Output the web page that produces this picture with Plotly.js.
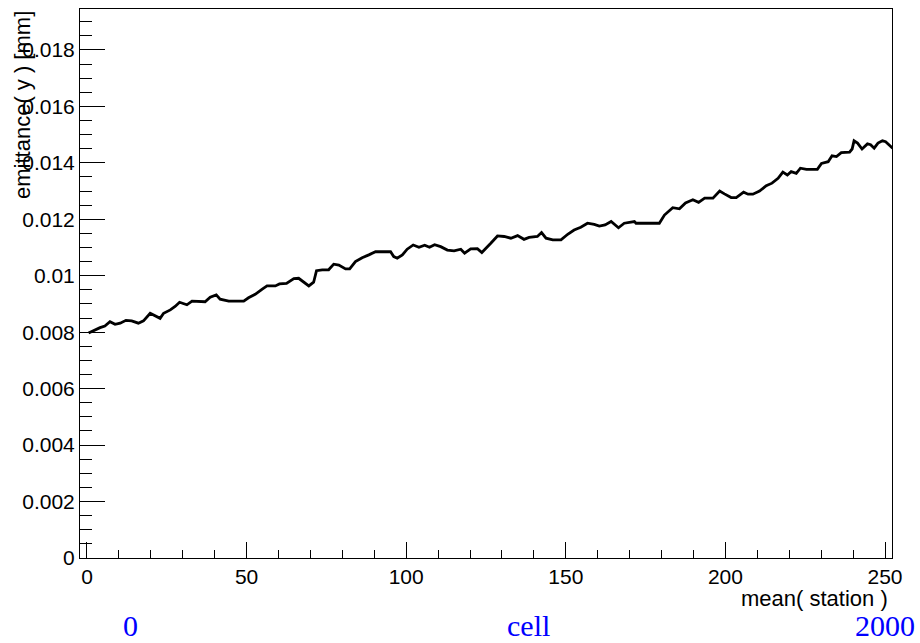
<!DOCTYPE html>
<html>
<head>
<meta charset="utf-8">
<script src="https://cdn.plot.ly/plotly-3.0.1.min.js"></script>
<style>
html,body{margin:0;padding:0;background:#fff;}
#chart{width:920px;height:643px;}
</style>
</head>
<body>
<div id="chart"></div>
<script>
// Data
const station = [0.5, 2.5, 4.1, 5.6, 7.2, 8.8, 10.4, 12.2, 14.0, 16.1, 17.7, 19.8, 21.3, 22.9, 24.0, 26.1, 27.6, 29.0, 31.3, 32.9,
  37.0, 38.6, 40.5, 41.7, 44.4, 49.1, 50.6, 52.7, 54.8, 56.4, 59.0, 60.3, 62.5, 64.8, 66.3, 67.9, 69.5, 71.0, 71.9, 73.7,
  75.7, 77.3, 78.9, 81.0, 82.3, 84.1, 86.2, 88.3, 90.4, 95.1, 96.1, 97.2, 98.8, 100.3, 102.2, 104.0, 105.8, 107.3, 108.9, 110.8,
  112.9, 115.0, 117.1, 118.3, 120.2, 122.3, 123.7, 126.5, 128.6, 130.7, 132.8, 134.9, 136.9, 138.5, 141.1, 142.4, 143.8, 145.9, 148.5, 150.6,
  152.6, 154.7, 156.8, 158.9, 160.5, 162.3, 164.2, 166.5, 168.3, 171.5, 172.0, 179.3, 180.9, 183.5, 185.6, 187.5, 189.8, 191.6, 193.5, 196.1,
  198.2, 199.7, 201.8, 203.4, 205.7, 207.1, 208.6, 210.7, 212.8, 214.6, 216.5, 218.0, 219.4, 220.6, 222.2, 223.5, 225.4, 228.8, 230.1, 232.2,
  233.4, 234.8, 236.3, 238.9, 239.7, 240.3, 241.4, 242.8, 244.5, 245.5, 246.6, 247.8, 249.2, 250.2, 251.6, 252.4];
const emittance = [0.00797, 0.00808, 0.00816, 0.00822, 0.00837, 0.00828, 0.00832, 0.00842, 0.00840, 0.00832, 0.00840, 0.00867, 0.00859, 0.00849, 0.00867, 0.00879, 0.00891, 0.00906, 0.00897, 0.00910,
  0.00908, 0.00924, 0.00932, 0.00917, 0.00910, 0.00910, 0.00922, 0.00934, 0.00952, 0.00964, 0.00964, 0.00971, 0.00973, 0.00990, 0.00991, 0.00979, 0.00964, 0.00977, 0.01018, 0.01021,
  0.01021, 0.01041, 0.01038, 0.01024, 0.01024, 0.01050, 0.01064, 0.01074, 0.01085, 0.01085, 0.01068, 0.01062, 0.01074, 0.01094, 0.01109, 0.01101, 0.01108, 0.01101, 0.01110, 0.01103,
  0.01091, 0.01088, 0.01094, 0.01080, 0.01095, 0.01096, 0.01082, 0.01115, 0.01141, 0.01139, 0.01133, 0.01142, 0.01129, 0.01136, 0.01139, 0.01153, 0.01133, 0.01127, 0.01127, 0.01147,
  0.01162, 0.01172, 0.01186, 0.01182, 0.01176, 0.01180, 0.01192, 0.01170, 0.01186, 0.01192, 0.01186, 0.01186, 0.01215, 0.01241, 0.01237, 0.01258, 0.01269, 0.01260, 0.01275, 0.01275,
  0.01300, 0.01290, 0.01277, 0.01277, 0.01296, 0.01289, 0.01289, 0.01300, 0.01319, 0.01328, 0.01345, 0.01367, 0.01357, 0.01369, 0.01363, 0.01381, 0.01377, 0.01377, 0.01398, 0.01404,
  0.01425, 0.01422, 0.01436, 0.01438, 0.01449, 0.01478, 0.01470, 0.01449, 0.01467, 0.01464, 0.01452, 0.01470, 0.01478, 0.01475, 0.01458, 0.01452];

const xTitle = "mean( station )";
const yTitle = "emittance( y ) [mm]";
const bottomLabels = ["0", "cell", "2000"];

const trace = {
  x: station, y: emittance, type: 'scatter', mode: 'lines',
  line: {color: '#000', width: 2.8, shape: 'linear'},
  hoverinfo: 'skip'
};

const tickFont = {family: '"Liberation Sans", Arial, sans-serif', size: 21, color: '#000'};
const titleFont = {family: '"Liberation Sans", Arial, sans-serif', size: 22, color: '#000'};
const blueFont = {family: '"Liberation Serif", "Times New Roman", serif', size: 30, color: '#0000ff'};
const yBottom = (558 - 643) / 549;

const layout = {
  width: 920, height: 643,
  margin: {l: 80, r: 28, t: 9, b: 85, pad: 0},
  paper_bgcolor: '#fff', plot_bgcolor: '#fff',
  showlegend: false,
  xaxis: {
    range: [-2.19, 252.19], showgrid: false, zeroline: false,
    showline: true, linecolor: '#000', linewidth: 1, mirror: true,
    ticks: 'inside', ticklen: 16, tickwidth: 1, tickcolor: '#000',
    tick0: 0, dtick: 50, tickfont: tickFont,
    minor: {ticks: 'inside', ticklen: 8, tickwidth: 1, tickcolor: '#000', dtick: 10, tick0: 0, showgrid: false},
    fixedrange: true
  },
  yaxis: {
    range: [0, 0.01945], showgrid: false, zeroline: false,
    showline: true, linecolor: '#000', linewidth: 1, mirror: true,
    ticks: 'inside', ticklen: 25, tickwidth: 1, tickcolor: '#000',
    tick0: 0, dtick: 0.002, tickfont: tickFont, tickformat: '~g',
    minor: {ticks: 'inside', ticklen: 12, tickwidth: 1, tickcolor: '#000', dtick: 0.0005, tick0: 0, showgrid: false},
    fixedrange: true
  },
  annotations: [
    {text: xTitle, xref: 'paper', yref: 'paper', x: (890 - 80) / 812, y: (558 - 598) / 549,
     xanchor: 'right', yanchor: 'middle', showarrow: false, font: titleFont},
    {text: yTitle, xref: 'paper', yref: 'paper', x: (22 - 80) / 812, y: (558 - 9) / 549,
     xanchor: 'center', yanchor: 'top', textangle: -90, showarrow: false, font: titleFont},
    {text: bottomLabels[0], xref: 'paper', yref: 'paper', x: (130 - 80) / 812, y: yBottom,
     xanchor: 'center', yanchor: 'bottom', borderpad: 0, showarrow: false, font: blueFont},
    {text: bottomLabels[1], xref: 'paper', yref: 'paper', x: (528 - 80) / 812, y: yBottom,
     xanchor: 'center', yanchor: 'bottom', borderpad: 0, showarrow: false, font: blueFont},
    {text: bottomLabels[2], xref: 'paper', yref: 'paper', x: (885 - 80) / 812, y: yBottom,
     xanchor: 'center', yanchor: 'bottom', borderpad: 0, showarrow: false, font: blueFont}
  ]
};

Plotly.newPlot('chart', [trace], layout, {displayModeBar: false, staticPlot: true});
</script>
</body>
</html>
